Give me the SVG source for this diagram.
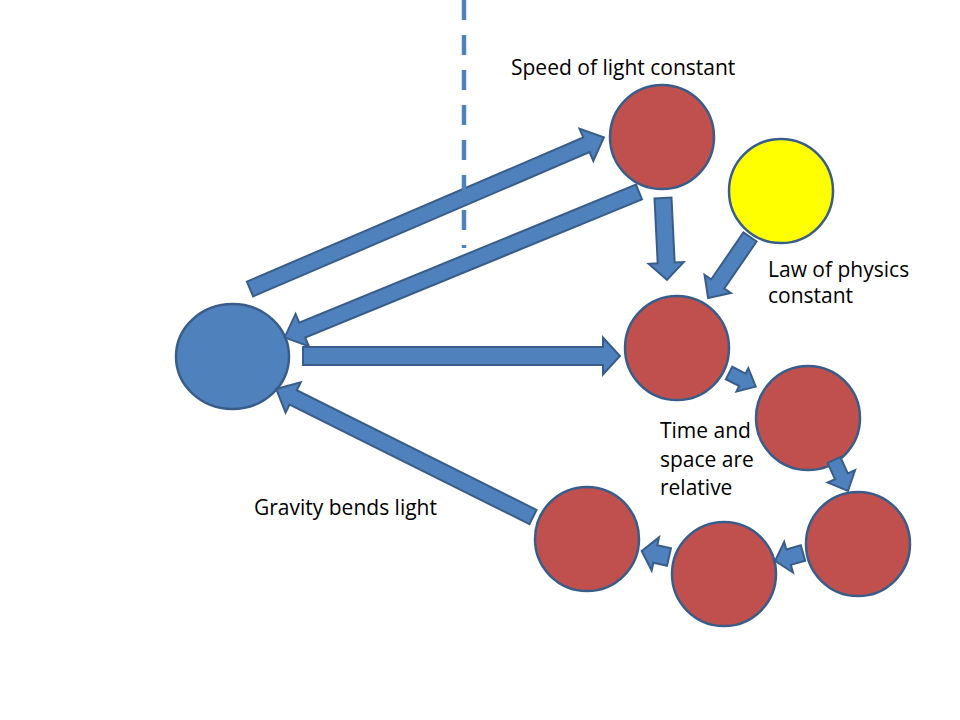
<svg xmlns="http://www.w3.org/2000/svg" width="960" height="720" viewBox="0 0 960 720">
<style>
.arr{fill:#4F81BD;stroke:#385D8A;stroke-width:2;stroke-linejoin:miter}
.node{stroke:#385D8A;stroke-width:2.5}
.red{fill:#C0504D}
.blue{fill:#4F81BD}
.yellow{fill:#FFFF00}
.lbl{font-family:"Open Sans","Liberation Sans",sans-serif;font-size:21px;fill:#000}
</style>
<rect width="960" height="720" fill="#fff"/>
<g id="nodes">
<g id="center"><ellipse class="node blue" cx="232.5" cy="356.5" rx="56.5" ry="52.5"/></g>
<g id="speed"><circle class="node red" cx="662" cy="137" r="52"/></g>
<g id="law"><circle class="node yellow" cx="781" cy="191" r="52"/></g>
<g id="r2"><circle class="node red" cx="677" cy="348" r="52"/></g>
<g id="r3"><circle class="node red" cx="808" cy="418" r="52"/></g>
<g id="r4"><circle class="node red" cx="858" cy="544" r="52"/></g>
<g id="r5"><circle class="node red" cx="724" cy="574" r="52"/></g>
<g id="r6"><circle class="node red" cx="587" cy="539" r="52"/></g>
</g>
<g id="connectors">
<path class="arr" transform="translate(250,289) rotate(-23.2)" d="M0,-8 L366,-8 L366,-17.5 L385,0 L366,17.5 L366,8 L0,8 Z"/>
<path class="arr" transform="translate(639,192) rotate(157.7)" d="M0,-8 L364,-8 L364,-17.5 L383,0 L364,17.5 L364,8 L0,8 Z"/>
<path class="arr" transform="translate(303,356) rotate(0)" d="M0,-9 L300,-9 L300,-18.5 L317,0 L300,18.5 L300,9 L0,9 Z"/>
<path class="arr" transform="translate(663,198) rotate(87.2)" d="M0,-8.5 L65,-8.5 L65,-17.5 L82,0 L65,17.5 L65,8.5 L0,8.5 Z"/>
<path class="arr" transform="translate(750,237) rotate(124.5)" d="M0,-8 L57,-8 L57,-16 L74,0 L57,16 L57,8 L0,8 Z"/>
<path class="arr" transform="translate(729,373) rotate(27)" d="M0,-7 L15,-7 L15,-13 L30,0 L15,13 L15,7 L0,7 Z"/>
<path class="arr" transform="translate(834,460) rotate(65.7)" d="M0,-7 L18,-7 L18,-15 L34,0 L18,15 L18,7 L0,7 Z"/>
<path class="arr" transform="translate(803,553) rotate(164)" d="M0,-8 L15,-8 L15,-16 L29,0 L15,16 L15,8 L0,8 Z"/>
<path class="arr" transform="translate(669,557) rotate(-167.5)" d="M0,-9 L14,-9 L14,-17 L28,0 L14,17 L14,9 L0,9 Z"/>
<path class="arr" transform="translate(533,517) rotate(-153.5)" d="M0,-8 L268,-8 L268,-17 L287,0 L268,17 L268,8 L0,8 Z"/>
<line x1="464" y1="0" x2="464" y2="248" stroke="#4F81BD" stroke-width="4.5" stroke-dasharray="20 15"/>
</g>
<g id="labels">
<text class="lbl" x="511" y="75">Speed of light constant</text>
<text class="lbl" x="768" y="277">Law of physics</text>
<text class="lbl" x="768" y="303">constant</text>
<text class="lbl" x="660" y="438">Time and</text>
<text class="lbl" x="660" y="467">space are</text>
<text class="lbl" x="660" y="495">relative</text>
<text class="lbl" x="254" y="515">Gravity bends light</text>
</g>
</svg>
